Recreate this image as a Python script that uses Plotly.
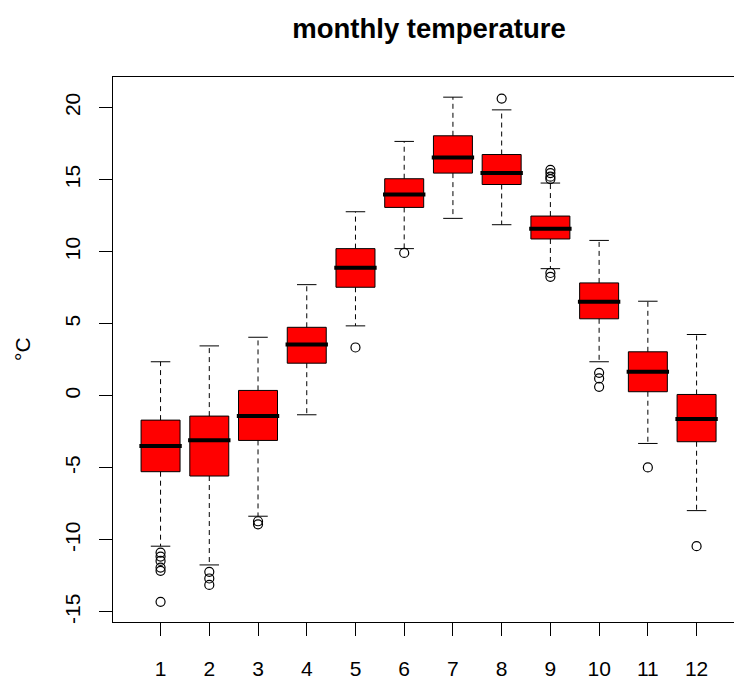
import plotly.graph_objects as go

months = list(range(1, 13))
month_labels = [str(m) for m in months]
upper_whisker = [2.36, 3.46, 4.06, 7.71, 12.77, 17.65, 20.72, 19.84, 14.76, 10.78, 6.56, 4.25]
q3 = [-1.69, -1.41, 0.37, 4.75, 10.21, 15.06, 18.04, 16.74, 12.47, 7.83, 3.05, 0.09]
median = [-3.49, -3.08, -1.41, 3.56, 8.89, 13.97, 16.54, 15.45, 11.59, 6.53, 1.66, -1.62]
q1 = [-5.27, -5.57, -3.10, 2.26, 7.53, 13.07, 15.45, 14.66, 10.88, 5.34, 0.28, -3.19]
lower_whisker = [-10.44, -11.74, -8.36, -1.32, 4.85, 10.21, 12.31, 11.87, 8.82, 2.36, -3.31, -7.97]
outlier_month = [1, 1, 1, 1, 1, 1, 2, 2, 2, 3, 3, 5, 6, 8, 9, 9, 9, 9, 9, 9, 10, 10, 10, 11, 12]
outlier_value = [-10.88, -11.16, -11.46, -11.92, -12.15, -14.3, -12.22, -12.68, -13.13,
                 -8.71, -8.92, 3.35, 9.91, 20.62, 15.68, 15.45, 15.2, 15.04, 8.52, 8.25,
                 1.59, 1.20, 0.62, -4.97, -10.44]
y_ticks = [-15, -10, -5, 0, 5, 10, 15, 20]

BOX_W = 0.8
CAP_HALF = 0.2
MED_HALF = 0.435
FONT = "Liberation Sans, Arial, sans-serif"

fig = go.Figure()

# boxes
fig.add_trace(go.Bar(
    x=months, y=[a - b for a, b in zip(q3, q1)], base=q1, width=BOX_W,
    marker=dict(color="#FF0000", line=dict(color="black", width=1)),
    hoverinfo="skip", showlegend=False))

# whiskers (dashed)
wx, wy = [], []
for m, lo, a, b, hi in zip(months, lower_whisker, q1, q3, upper_whisker):
    wx += [m, m, None, m, m, None]
    wy += [b, hi, None, a, lo, None]
fig.add_trace(go.Scatter(x=wx, y=wy, mode="lines",
                         line=dict(color="black", width=1, dash="5px,4px"),
                         hoverinfo="skip", showlegend=False))

# caps
cx, cy = [], []
for m, lo, hi in zip(months, lower_whisker, upper_whisker):
    cx += [m - CAP_HALF, m + CAP_HALF, None, m - CAP_HALF, m + CAP_HALF, None]
    cy += [hi, hi, None, lo, lo, None]
fig.add_trace(go.Scatter(x=cx, y=cy, mode="lines",
                         line=dict(color="black", width=1),
                         hoverinfo="skip", showlegend=False))

# medians
mx, my = [], []
for m, md in zip(months, median):
    mx += [m - MED_HALF, m + MED_HALF, None]
    my += [md, md, None]
fig.add_trace(go.Scatter(x=mx, y=my, mode="lines",
                         line=dict(color="black", width=4),
                         hoverinfo="skip", showlegend=False))

# outliers
fig.add_trace(go.Scatter(x=outlier_month, y=outlier_value, mode="markers",
                         marker=dict(symbol="circle-open", size=9, color="black",
                                     line=dict(width=1.2, color="black")),
                         hoverinfo="skip", showlegend=False))

fig.update_layout(
    width=734, height=680,
    margin=dict(l=113, r=0, t=77, b=56),
    paper_bgcolor="white", plot_bgcolor="white",
    font=dict(family=FONT, size=21, color="black"),
    title=dict(text="<b>monthly temperature</b>", xref="container", yref="container",
               x=429 / 734, y=1 - 28 / 680, xanchor="center", yanchor="middle",
               font=dict(size=27.5, family=FONT, color="black")),
    barmode="overlay",
    showlegend=False,
)
fig.update_xaxes(
    range=[0.024, 12.768], tickmode="array", tickvals=months, ticktext=month_labels,
    showline=True, mirror=True, linecolor="black", linewidth=1,
    ticks="outside", ticklen=13, tickcolor="black", tickwidth=1,
    showgrid=False, zeroline=False, ticklabelstandoff=15,
    tickfont=dict(size=21, family=FONT, color="black"),
)
fig.update_yaxes(
    range=[-15.70, 22.12], tickmode="array", tickvals=y_ticks,
    ticktext=[str(v) for v in y_ticks], tickangle=-90,
    showline=True, mirror=False, linecolor="black", linewidth=1,
    ticks="outside", ticklen=13, tickcolor="black", tickwidth=1,
    showgrid=False, zeroline=False, ticklabelstandoff=11,
    tickfont=dict(size=21, family=FONT, color="black"),
)
fig.add_annotation(text="°C", xref="paper", yref="paper", x=(22.5 - 113) / 621, y=0.5,
                   textangle=-90, showarrow=False, xanchor="center", yanchor="middle",
                   font=dict(size=21, family=FONT, color="black"))

fig.write_html("out.html")
